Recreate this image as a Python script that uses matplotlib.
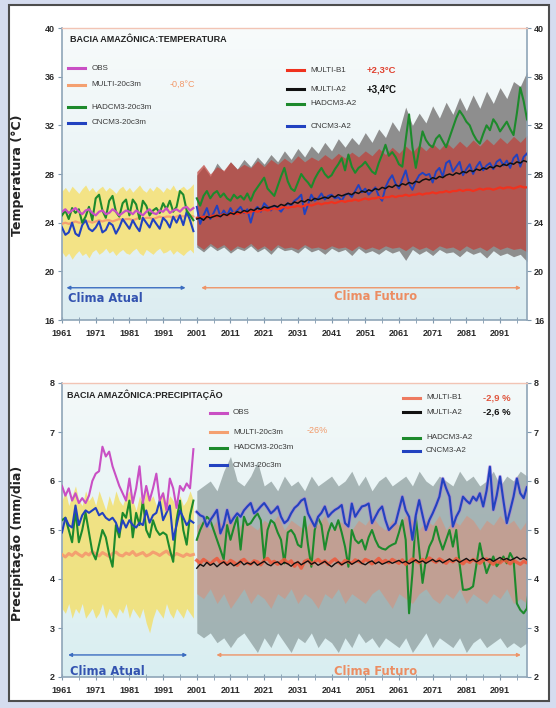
import numpy as np
import matplotlib.pyplot as plt
import matplotlib.colors as mcolors
import matplotlib.patheffects as pe
from matplotlib.lines import Line2D
from matplotlib.patches import Rectangle
from matplotlib.ticker import MultipleLocator, FixedLocator

years_hist = np.arange(1961, 2001)
years_fut = np.arange(2001, 2101)
years_band = np.arange(2001, 2101, 2)

# ---------------- temperature (°C) ----------------
obs_t = [24.9, 25.1, 24.8, 25.0, 25.2, 24.9, 24.7, 25.0, 25.1, 24.8,
         24.6, 24.9, 25.0, 24.7, 24.8, 25.1, 24.9, 24.6, 24.8, 25.0,
         24.9, 24.7, 25.0, 24.8, 24.6, 24.9, 25.1, 24.8, 24.7, 25.0,
         24.9, 25.2, 24.8, 25.0, 25.1, 24.9, 25.2, 25.3, 25.0, 25.2]
multi20_t = [23.9, 24.0, 23.9, 24.0, 24.1, 24.0, 24.0, 24.1, 24.1, 24.0,
             24.1, 24.2, 24.1, 24.2, 24.2, 24.1, 24.2, 24.3, 24.2, 24.3,
             24.3, 24.2, 24.3, 24.4, 24.3, 24.4, 24.4, 24.3, 24.4, 24.5,
             24.4, 24.5, 24.5, 24.4, 24.5, 24.6, 24.5, 24.6, 24.6, 24.5]
had20_t = [24.6, 25.0, 24.3, 25.2, 24.8, 25.1, 24.0, 24.5, 25.3, 24.2,
           26.0, 26.3, 25.0, 24.4, 25.8, 26.2, 24.9, 24.5, 25.6, 25.9,
           24.6, 25.9, 25.5, 24.3, 25.8, 25.4, 24.6, 25.0, 25.2, 24.8,
           25.6, 25.1, 25.8, 24.9, 25.3, 26.6, 26.3, 25.0, 24.6, 24.2]
cn20_t = [23.6, 23.0, 23.2, 24.0, 23.1, 22.9, 23.8, 24.2, 23.5, 23.3,
          23.6, 24.1, 23.2, 23.4, 24.0, 23.8, 23.1, 23.6, 24.3, 23.9,
          23.5, 24.2, 23.7, 23.3, 24.4, 24.0, 23.6, 24.3, 23.9, 23.5,
          24.4, 24.1, 23.6, 24.5, 24.0, 24.6, 23.8, 24.9, 24.2, 23.3]
yel_hi_t = [26.6, 26.9, 26.5, 27.0, 26.7, 26.4, 26.8, 27.1, 26.6, 26.9,
            26.5, 26.8, 27.0, 26.6, 26.9, 26.7, 26.4, 26.8, 27.0, 26.6,
            26.9, 26.5, 26.8, 27.1, 26.7, 26.5, 26.9, 26.6, 27.0, 26.8,
            26.5, 26.9, 26.7, 27.1, 26.6, 26.8, 27.0, 26.7, 26.9, 27.2]
yel_lo_t = [21.6, 21.2, 21.5, 21.0, 21.4, 21.7, 21.3, 21.5, 21.1, 21.6,
            21.8, 21.4, 21.6, 21.9, 21.5, 21.7, 21.3, 21.6, 21.8, 21.5,
            21.4, 21.7, 21.9, 21.5, 21.3, 21.8, 21.6, 21.4, 21.7, 21.9,
            21.5, 21.6, 21.8, 21.4, 21.7, 21.5, 21.3, 21.6, 21.8, 21.5]

b1_t = [24.4, 24.4, 24.5, 24.4, 24.5, 24.6, 24.5, 24.6, 24.7, 24.6,
        24.7, 24.8, 24.7, 24.8, 24.9, 24.8, 24.9, 25.0, 24.9, 25.0,
        25.1, 25.0, 25.1, 25.2, 25.1, 25.2, 25.3, 25.2, 25.3, 25.3,
        25.4, 25.3, 25.4, 25.5, 25.4, 25.5, 25.6, 25.5, 25.6, 25.6,
        25.7, 25.6, 25.7, 25.8, 25.7, 25.8, 25.8, 25.9, 25.8, 25.9,
        26.0, 25.9, 26.0, 26.0, 26.1, 26.0, 26.1, 26.1, 26.2, 26.1,
        26.2, 26.2, 26.3, 26.2, 26.3, 26.3, 26.4, 26.3, 26.4, 26.4,
        26.5, 26.4, 26.5, 26.5, 26.6, 26.5, 26.6, 26.6, 26.7, 26.6,
        26.7, 26.7, 26.6, 26.7, 26.8, 26.7, 26.8, 26.8, 26.7, 26.8,
        26.9, 26.8, 26.9, 26.9, 26.8, 26.9, 27.0, 26.9, 26.9, 27.0]
a2_t = [24.3, 24.4, 24.2, 24.5, 24.4, 24.5, 24.6, 24.5, 24.7, 24.6,
        24.8, 24.7, 24.9, 24.8, 25.0, 24.9, 25.1, 25.0, 25.2, 25.1,
        25.3, 25.2, 25.3, 25.4, 25.3, 25.5, 25.4, 25.6, 25.5, 25.7,
        25.6, 25.8, 25.7, 25.9, 25.8, 26.0, 25.9, 26.0, 26.1, 26.0,
        26.2, 26.1, 26.3, 26.2, 26.3, 26.4, 26.3, 26.5, 26.4, 26.6,
        26.5, 26.7, 26.6, 26.8, 26.7, 26.9, 26.8, 27.0, 26.9, 27.1,
        27.0, 27.2, 27.1, 27.3, 27.2, 27.4, 27.3, 27.5, 27.6, 27.5,
        27.7, 27.6, 27.8, 27.7, 27.9, 28.0, 27.9, 28.1, 28.0, 28.2,
        28.1, 28.3, 28.2, 28.4, 28.3, 28.5, 28.4, 28.6, 28.5, 28.7,
        28.6, 28.8, 28.7, 28.9, 28.8, 29.0, 28.9, 29.1, 29.0, 29.2]
hada2_t = [26.0, 25.4, 26.2, 26.6, 26.0, 26.4, 26.6, 26.1, 26.4, 26.0,
           25.8, 26.3, 26.0, 26.2, 25.9, 26.4, 25.8, 26.5, 26.9, 27.3,
           27.7, 26.8, 26.5, 26.2, 27.0, 27.8, 28.5, 27.4, 26.8, 26.6,
           27.3, 28.0, 27.6, 27.3, 26.9, 27.6, 28.1, 28.5, 28.0, 27.7,
           27.9, 28.4, 28.8, 29.3, 28.3, 29.6, 28.6, 28.1, 28.5, 28.7,
           29.0, 28.6, 28.2, 28.0, 28.9, 29.6, 30.4, 29.5, 29.8, 29.4,
           28.8, 28.6, 30.8, 32.9, 30.2, 28.5, 30.0, 31.5, 30.8, 30.4,
           30.2, 30.9, 31.2, 30.7, 30.2, 31.0, 31.8, 32.6, 33.2, 32.8,
           32.3, 32.0, 31.3, 30.8, 30.5, 31.3, 32.0, 31.6, 32.5, 32.1,
           31.5, 31.9, 32.3, 31.7, 31.2, 33.0, 35.1, 34.0, 32.5, 32.0]
cna2_t = [25.3, 23.9, 24.6, 25.2, 24.3, 24.8, 25.4, 24.5, 25.0, 24.6,
          25.2, 24.7, 25.0, 25.3, 24.8, 25.1, 24.0, 25.0, 25.3, 24.9,
          25.6, 25.3, 25.0, 25.4, 25.2, 24.9, 25.3, 25.6, 25.4, 25.8,
          26.0, 26.3, 24.7, 25.5, 26.3, 25.8, 26.0, 26.4, 25.9, 26.2,
          26.3, 26.0, 26.1, 25.8, 26.3, 26.4, 26.1, 26.6, 27.1, 26.5,
          26.8, 26.3, 26.6, 26.9, 26.2, 25.8, 26.9, 27.5, 27.9, 27.2,
          26.8, 27.6, 28.3, 27.2, 26.7, 27.4, 27.9, 28.1, 27.9, 28.0,
          27.3, 28.2, 28.5, 27.8, 28.9, 29.1, 28.2, 28.6, 29.0, 27.9,
          28.4, 28.8, 28.0, 28.6, 29.0, 28.3, 28.7, 28.9, 28.4, 29.0,
          29.2, 28.7, 29.1, 28.5, 29.3, 29.6, 28.6, 29.4, 29.7, 28.9]
# ensemble spread, every 2 years
a2_hi_t = [27.9, 28.6, 27.8, 28.9, 28.2, 29.0, 28.4, 29.2, 28.6, 29.4,
           28.8, 29.6, 29.0, 29.9, 29.2, 30.1, 29.4, 30.3, 29.7, 30.6,
           29.9, 30.9, 30.2, 31.0, 30.4, 31.4, 30.6, 31.7, 31.0, 32.3,
           31.5, 33.5, 32.0, 33.0, 32.2, 33.6, 32.6, 33.9, 32.9, 34.3,
           33.2, 34.5, 33.4, 34.8, 33.8, 35.1, 34.2, 35.6, 35.2, 36.4]
a2_lo_t = [22.0, 21.6, 22.1, 21.7, 22.0, 21.5, 21.9, 21.7, 22.1, 21.6,
           21.9, 21.4, 22.0, 21.7, 21.8, 21.5, 22.0, 21.6, 21.8, 21.4,
           21.9, 21.6, 21.8, 21.3, 21.9, 21.5, 21.7, 21.4, 21.8, 21.5,
           21.7, 20.9, 21.8, 21.4, 21.7, 21.3, 21.8, 21.5, 21.6, 21.2,
           21.7, 21.4, 21.6, 21.1, 21.7, 21.3, 21.5, 21.2, 21.4, 20.8]
b1_hi_t = [28.2, 28.8, 28.0, 28.6, 28.3, 29.0, 28.4, 28.8, 28.5, 29.1,
           28.6, 29.2, 28.8, 29.3, 28.9, 29.5, 29.0, 29.4, 29.1, 29.6,
           29.2, 29.7, 29.3, 29.8, 29.4, 29.9, 29.5, 30.1, 29.6, 30.2,
           29.7, 30.3, 29.8, 30.4, 29.9, 30.5, 30.0, 30.6, 30.1, 30.7,
           30.2, 30.8, 30.3, 30.9, 30.4, 31.0, 30.5, 31.1, 30.6, 31.2]
b1_lo_t = [22.2, 21.8, 22.3, 21.9, 22.2, 21.7, 22.1, 21.9, 22.3, 21.8,
           22.1, 21.7, 22.2, 21.9, 22.0, 21.8, 22.2, 21.9, 22.0, 21.8,
           22.1, 21.9, 22.0, 21.7, 22.1, 21.8, 22.0, 21.8, 22.1, 21.9,
           22.0, 21.7, 22.1, 21.8, 22.0, 21.7, 22.1, 21.9, 22.0, 21.7,
           22.1, 21.8, 22.0, 21.7, 22.1, 21.8, 22.0, 21.8, 21.9, 21.6]

# ---------------- precipitation (mm/dia) ----------------
obs_p = [5.90, 5.70, 5.85, 5.60, 5.75, 5.55, 5.65, 5.55, 5.70, 6.00,
         6.15, 6.20, 6.70, 6.50, 6.60, 6.30, 6.10, 5.90, 5.75, 5.60,
         6.05, 5.55, 5.85, 6.30, 5.55, 5.90, 5.60, 5.85, 6.15, 5.60,
         5.75, 5.40, 6.05, 5.85, 5.45, 5.90, 5.80, 5.95, 5.85, 6.65]
multi20_p = [4.50, 4.45, 4.52, 4.48, 4.55, 4.50, 4.46, 4.53, 4.49, 4.56,
             4.51, 4.47, 4.54, 4.50, 4.46, 4.52, 4.55, 4.49, 4.47, 4.53,
             4.50, 4.56, 4.48, 4.51, 4.54, 4.47, 4.50, 4.55, 4.52, 4.48,
             4.53, 4.57, 4.50, 4.47, 4.52, 4.49, 4.46, 4.51, 4.48, 4.50]
had20_p = [5.20, 5.25, 5.00, 4.75, 5.40, 4.75, 5.00, 5.35, 4.95, 4.55,
           4.40, 4.70, 5.00, 4.85, 4.50, 4.25, 5.10, 4.85, 5.35, 5.25,
           5.60, 4.85, 5.35, 5.10, 5.60, 5.00, 4.85, 5.20, 5.00, 4.90,
           4.95, 4.90, 4.60, 4.35, 5.20, 5.60, 5.00, 4.70, 5.30, 5.60]
cn20_p = [4.95, 5.25, 5.10, 5.05, 5.50, 5.10, 5.30, 5.40, 5.35, 5.40,
          5.45, 5.30, 5.35, 5.25, 5.20, 5.25, 5.15, 4.95, 5.20, 5.05,
          5.20, 5.10, 5.05, 5.15, 5.10, 5.40, 5.15, 5.30, 5.35, 5.60,
          5.20, 5.35, 5.50, 4.80, 5.10, 5.40, 5.25, 5.10, 5.20, 5.15]
yel_hi_p = [5.6, 5.8, 5.5, 5.7, 5.9, 5.6, 5.5, 5.8, 5.6, 5.7,
            5.5, 5.8, 5.6, 5.4, 5.7, 5.5, 5.8, 5.6, 5.5, 5.7,
            5.8, 5.6, 5.4, 5.7, 5.5, 5.8, 5.6, 5.7, 5.5, 5.6,
            5.8, 5.5, 5.7, 5.6, 5.4, 5.7, 5.5, 5.6, 5.8, 5.6]
yel_lo_p = [3.4, 3.3, 3.5, 3.2, 3.4, 3.3, 3.5, 3.2, 3.3, 3.4,
            3.2, 3.3, 3.5, 3.2, 3.4, 3.3, 3.2, 3.4, 3.3, 3.5,
            3.2, 3.4, 3.3, 3.2, 3.4, 3.1, 2.9, 3.2, 3.4, 3.3,
            3.2, 3.5, 3.3, 3.2, 3.4, 3.3, 3.2, 3.4, 3.3, 3.2]

b1_p = [4.38, 4.32, 4.40, 4.35, 4.30, 4.37, 4.42, 4.33, 4.36, 4.30,
        4.38, 4.34, 4.28, 4.36, 4.40, 4.33, 4.30, 4.37, 4.35, 4.29,
        4.38, 4.42, 4.33, 4.36, 4.30, 4.35, 4.40, 4.32, 4.37, 4.26,
        4.34, 4.22, 4.36, 4.39, 4.31, 4.35, 4.40, 4.33, 4.37, 4.30,
        4.36, 4.41, 4.34, 4.30, 4.38, 4.35, 4.32, 4.39, 4.36, 4.33,
        4.40, 4.37, 4.31, 4.36, 4.42, 4.34, 4.38, 4.33, 4.40, 4.36,
        4.32, 4.39, 4.30, 4.35, 4.41, 4.37, 4.33, 4.40, 4.36, 4.43,
        4.38, 4.34, 4.41, 4.37, 4.32, 4.39, 4.35, 4.42, 4.36, 4.31,
        4.38, 4.34, 4.40, 4.36, 4.32, 4.38, 4.41, 4.35, 4.30, 4.37,
        4.33, 4.39, 4.36, 4.31, 4.38, 4.34, 4.30, 4.36, 4.33, 4.35]
a2_p = [4.22, 4.30, 4.26, 4.34, 4.28, 4.32, 4.25, 4.31, 4.35, 4.28,
        4.33, 4.27, 4.31, 4.36, 4.29, 4.33, 4.30, 4.35, 4.28, 4.32,
        4.36, 4.30, 4.27, 4.33, 4.35, 4.29, 4.34, 4.31, 4.26, 4.32,
        4.35, 4.29, 4.33, 4.37, 4.30, 4.34, 4.28, 4.32, 4.36, 4.30,
        4.25, 4.31, 4.35, 4.29, 4.33, 4.36, 4.30, 4.34, 4.38, 4.32,
        4.29, 4.34, 4.37, 4.31, 4.35, 4.30, 4.33, 4.36, 4.32, 4.35,
        4.38, 4.33, 4.36, 4.31, 4.35, 4.39, 4.34, 4.37, 4.32, 4.36,
        4.40, 4.35, 4.38, 4.33, 4.37, 4.41, 4.36, 4.39, 4.34, 4.38,
        4.42, 4.37, 4.40, 4.35, 4.39, 4.43, 4.38, 4.41, 4.36, 4.40,
        4.44, 4.39, 4.42, 4.38, 4.41, 4.45, 4.40, 4.43, 4.39, 4.45]
hada2_p = [4.80, 5.00, 5.15, 5.27, 5.20, 5.00, 4.80, 4.60, 4.40, 5.10,
           4.80, 5.05, 5.27, 4.60, 5.27, 5.10, 5.14, 5.25, 5.34, 5.20,
           4.39, 5.00, 5.20, 5.14, 4.95, 4.80, 4.32, 4.95, 5.00, 4.90,
           4.70, 4.65, 5.27, 4.70, 4.25, 5.00, 5.25, 5.10, 4.60, 4.95,
           5.14, 5.00, 5.20, 4.95, 4.66, 4.25, 5.00, 4.80, 4.73, 4.80,
           4.60, 4.85, 5.00, 4.80, 4.66, 4.62, 4.60, 4.66, 4.70, 4.73,
           4.95, 5.20, 4.80, 3.30, 4.12, 5.27, 4.60, 3.92, 4.40, 4.66,
           4.80, 5.07, 4.80, 4.60, 4.80, 5.00, 4.66, 5.00, 4.30, 3.78,
           3.78, 3.80, 3.85, 4.30, 4.73, 4.39, 4.12, 4.30, 4.46, 4.26,
           4.35, 4.46, 4.32, 4.53, 4.40, 3.50, 3.37, 3.30, 3.40, 4.26]
cna2_p = [5.37, 5.30, 5.27, 5.07, 5.20, 5.30, 5.41, 4.93, 5.10, 5.41,
          5.14, 5.25, 5.34, 5.27, 5.40, 5.48, 5.55, 5.34, 5.40, 5.48,
          5.55, 5.45, 5.34, 5.40, 5.48, 5.27, 5.14, 5.20, 5.34, 5.45,
          5.51, 5.60, 5.64, 5.34, 5.20, 5.07, 5.27, 5.35, 5.48, 5.27,
          5.35, 5.41, 5.45, 5.51, 5.14, 5.07, 5.54, 5.27, 5.38, 5.48,
          5.50, 5.54, 5.14, 5.27, 5.40, 5.48, 5.20, 5.00, 5.07, 5.14,
          5.41, 5.68, 5.40, 5.27, 4.80, 5.30, 5.61, 5.30, 5.00, 5.20,
          5.34, 5.50, 5.68, 6.05, 5.85, 5.68, 5.07, 5.27, 5.40, 5.68,
          5.60, 5.54, 5.68, 5.60, 5.75, 5.48, 5.80, 6.29, 5.41, 5.70,
          6.09, 5.60, 5.14, 5.40, 5.68, 6.05, 5.75, 5.65, 5.88, 5.80]
a2_hi_p = [5.8, 5.9, 6.0, 5.8, 6.2, 6.5, 6.0, 5.9, 6.1, 6.4,
           5.9, 6.0, 5.8, 6.1, 5.9, 6.0, 5.8, 6.1, 5.9, 6.0,
           6.1, 5.9, 6.0, 6.2, 5.9, 6.1, 5.8, 6.0, 6.1, 5.9,
           6.0, 6.1, 5.9, 6.2, 6.0, 5.9, 6.1, 6.0, 5.9, 6.2,
           6.0, 6.1, 5.9, 6.0, 6.2, 5.9, 6.1, 6.0, 6.2, 6.1]
a2_lo_p = [2.9, 2.8, 2.9, 2.7, 2.8, 2.6, 2.8, 2.9, 2.7, 2.5,
           2.8, 2.6, 2.9, 2.7, 2.5, 2.8, 2.7, 2.9, 2.6, 2.8,
           2.7, 2.5, 2.8, 2.6, 2.9, 2.7, 2.8, 2.6, 2.8, 2.7,
           2.6, 2.8, 2.5, 2.7, 2.9, 2.6, 2.8, 2.7, 2.6, 2.8,
           2.5, 2.7, 2.8, 2.6, 2.7, 2.8, 2.6, 2.7, 2.6, 2.7]
b1_hi_p = [5.1, 5.2, 5.0, 5.2, 5.1, 5.3, 5.0, 5.2, 5.1, 5.0,
           5.2, 5.1, 5.3, 5.0, 5.2, 5.1, 5.0, 5.2, 5.1, 5.3,
           5.0, 5.2, 5.1, 5.0, 5.2, 5.1, 5.3, 5.1, 5.0, 5.2,
           5.1, 5.3, 5.2, 5.0, 5.2, 5.1, 5.3, 5.0, 5.2, 5.1,
           5.3, 5.2, 5.0, 5.2, 5.1, 5.3, 5.1, 5.2, 5.0, 5.2]
b1_lo_p = [3.7, 3.6, 3.8, 3.5, 3.7, 3.4, 3.6, 3.8, 3.5, 3.7,
           3.6, 3.4, 3.7, 3.6, 3.8, 3.5, 3.7, 3.6, 3.4, 3.7,
           3.6, 3.8, 3.5, 3.7, 3.6, 3.5, 3.7, 3.8, 3.6, 3.4,
           3.7, 3.6, 3.5, 3.7, 3.8, 3.6, 3.5, 3.7, 3.6, 3.8,
           3.5, 3.7, 3.6, 3.5, 3.7, 3.6, 3.8, 3.5, 3.6, 3.5]

C_OBS = '#c94fc4'
C_M20 = '#f4a070'
C_HAD = '#1d8a2c'
C_CN = '#2242c0'
C_B1 = '#f0321e'
C_A2 = '#111111'
FONT = 'Liberation Sans'


def background(ax, top, bottom):
    t = np.linspace(0, 1, 200)[:, None, None]
    img = (1 - t) * np.array(mcolors.to_rgb(top)) + t * np.array(mcolors.to_rgb(bottom))
    ax.imshow(img, extent=[0, 1, 0, 1], transform=ax.transAxes, aspect='auto', zorder=0)


def key(ax, x, y, color, label, lw=2.2):
    ax.add_line(Line2D([x, x + 0.037], [y, y], transform=ax.transAxes, color=color, lw=lw, zorder=6))
    ax.text(x + 0.05, y, label, transform=ax.transAxes, fontsize=5.8, va='center',
            color='#3a3a3a', family=FONT, zorder=6)


def style_axes(ax, ylim, ystep):
    ax.set_xlim(1961, 2099)
    ax.set_ylim(*ylim)
    ax.xaxis.set_major_locator(FixedLocator(np.arange(1961, 2092, 10)))
    ax.xaxis.set_minor_locator(FixedLocator(np.arange(1966, 2099, 10)))
    ax.yaxis.set_major_locator(MultipleLocator(ystep))
    ax.tick_params(axis='x', which='major', direction='inout', length=5, color='#7f98ad',
                   labelsize=6.5, pad=4, labelcolor='#2a2a2a')
    ax.tick_params(axis='x', which='minor', direction='inout', length=4, color='#7f98ad')
    ax.tick_params(axis='y', direction='out', length=3, color='#7f98ad', labelsize=6.5,
                   right=True, labelright=True, pad=2, labelcolor='#2a2a2a')
    for lab in ax.get_xticklabels() + ax.get_yticklabels() + ax.get_yticklabels(which='both'):
        lab.set_fontweight('bold')
        lab.set_family(FONT)
    for side in ('left', 'right', 'bottom'):
        ax.spines[side].set_color('#8fa5b8')
        ax.spines[side].set_linewidth(1.2)
    ax.spines['top'].set_color('#f2c4b4')
    ax.spines['top'].set_linewidth(1.0)


fig = plt.figure(figsize=(5.56, 7.08), dpi=100)
fig.patch.set_facecolor('#d5dcef')
fig.add_artist(Rectangle((9 / 556, 1 - 701 / 708), 540 / 556, 696 / 708, transform=fig.transFigure,
                         facecolor='white', edgecolor='#4d4d4d', lw=1.5, zorder=-5))

# ================= temperature =================
ax = fig.add_axes([62 / 556, 1 - 320 / 708, 465 / 556, 292 / 708])
background(ax, '#f8fbfb', '#dcedf1')
ax.fill_between(years_hist, yel_lo_t, yel_hi_t, color='#f5e27a', alpha=0.9, lw=0, zorder=1)
ax.fill_between(years_band, a2_lo_t, a2_hi_t, color='#8e8e8e', lw=0, zorder=1)
ax.fill_between(years_band, b1_lo_t, b1_hi_t, color='#c0413a', alpha=0.72, lw=0, zorder=2)
ax.plot(years_hist, multi20_t, color=C_M20, lw=1.6, zorder=3)
ax.plot(years_hist, cn20_t, color=C_CN, lw=1.5, zorder=4)
ax.plot(years_hist, had20_t, color=C_HAD, lw=1.5, zorder=4)
ax.plot(years_hist, obs_t, color=C_OBS, lw=1.6, zorder=5)
ax.plot(years_fut, hada2_t, color=C_HAD, lw=1.5, zorder=4)
ax.plot(years_fut, cna2_t, color=C_CN, lw=1.4, zorder=4)
ax.plot(years_fut, b1_t, color=C_B1, lw=1.6, zorder=5)
ax.plot(years_fut, a2_t, color=C_A2, lw=1.1, zorder=5)
style_axes(ax, (16, 40), 4)

ax.text(0.017, 0.962, 'BACIA AMAZÔNICA:TEMPERATURA', transform=ax.transAxes, fontsize=6.5,
        fontweight='bold', family=FONT, color='#222222', va='center')
key(ax, 0.013, 0.863, C_OBS, 'OBS')
key(ax, 0.013, 0.806, C_M20, 'MULTI-20c3m')
key(ax, 0.013, 0.729, C_HAD, 'HADCM3-20c3m')
key(ax, 0.013, 0.676, C_CN, 'CNCM3-20c3m')
ax.text(0.232, 0.806, '-0,8°C', transform=ax.transAxes, fontsize=6.5, color='#f29a6a',
        family=FONT, va='center')
key(ax, 0.484, 0.856, C_B1, 'MULTI-B1')
key(ax, 0.484, 0.791, C_A2, 'MULTI-A2')
key(ax, 0.484, 0.740, C_HAD, 'HADCM3-A2')
key(ax, 0.484, 0.664, C_CN, 'CNCM3-A2')
ax.text(0.656, 0.856, '+2,3°C', transform=ax.transAxes, fontsize=6.8, color='#e0402e',
        fontweight='bold', family=FONT, va='center')
ax.text(0.656, 0.791, '+3,4°C', transform=ax.transAxes, fontsize=7, color='#111111',
        fontweight='bold', family=FONT, va='center')

ax.annotate('', xy=(1961.5, 18.65), xytext=(1998.5, 18.65),
            arrowprops=dict(arrowstyle='<|-|>', color='#3b6cc0', lw=1.0, mutation_scale=5), zorder=6)
ax.annotate('', xy=(2001.5, 18.65), xytext=(2098, 18.65),
            arrowprops=dict(arrowstyle='<|-|>', color='#ee9468', lw=1.0, mutation_scale=5), zorder=6)
ax.text(1962.8, 17.8, 'Clima Atual', fontsize=8.3, fontweight='bold', color='#3353b0', va='center')
ax.text(2054, 17.9, 'Clima Futuro', fontsize=8.3, fontweight='bold', color='#ec8d62',
        va='center', ha='center')

fig.text(0.032, 0.753, 'Temperatura (°C)', rotation=90, fontsize=9, fontweight='bold',
         color='#222222', ha='center', va='center')

# ================= precipitation =================
bx = fig.add_axes([62 / 556, 1 - 677 / 708, 465 / 556, 294 / 708])
background(bx, '#f4f9f9', '#d9eef1')
bx.fill_between(years_hist, yel_lo_p, yel_hi_p, color='#f2e070', alpha=0.85, lw=0, zorder=1)
bx.fill_between(years_band, a2_lo_p, a2_hi_p, color='#8a9a9a', alpha=0.7, lw=0, zorder=1)
bx.fill_between(years_band, b1_lo_p, b1_hi_p, color='#d98f78', alpha=0.55, lw=0, zorder=2)
bx.plot(years_hist, multi20_p, color=C_M20, lw=2.2, zorder=3)
bx.plot(years_hist, had20_p, color=C_HAD, lw=1.5, zorder=4)
bx.plot(years_hist, cn20_p, color=C_CN, lw=1.5, zorder=4)
bx.plot(years_hist, obs_p, color=C_OBS, lw=1.5, zorder=5)
bx.plot(years_fut, hada2_p, color=C_HAD, lw=1.5, zorder=4)
bx.plot(years_fut, cna2_p, color=C_CN, lw=1.5, zorder=4,
        path_effects=[pe.Stroke(linewidth=2.6, foreground='#a878d8', alpha=0.6), pe.Normal()])
bx.plot(years_fut, b1_p, color='#f0583a', lw=2.4, alpha=0.85, zorder=5)
bx.plot(years_fut, a2_p, color=C_A2, lw=1.0, zorder=5)
style_axes(bx, (2, 8), 1)

bx.text(0.011, 0.959, 'BACIA AMAZÔNICA:PRECIPITAÇÃO', transform=bx.transAxes, fontsize=6.5,
        fontweight='bold', family=FONT, color='#222222', va='center')
key(bx, 0.318, 0.898, C_OBS, 'OBS')
key(bx, 0.318, 0.833, C_M20, 'MULTI-20c3m')
key(bx, 0.318, 0.779, C_HAD, 'HADCM3-20c3m')
key(bx, 0.318, 0.721, C_CN, 'CNM3-20c3m')
bx.text(0.527, 0.840, '-26%', transform=bx.transAxes, fontsize=6.5, color='#f29a6a',
        family=FONT, va='center')
key(bx, 0.733, 0.949, '#ee7a60', 'MULTI-B1')
key(bx, 0.733, 0.901, C_A2, 'MULTI-A2')
key(bx, 0.733, 0.813, C_HAD, 'HADCM3-A2')
key(bx, 0.733, 0.769, C_CN, 'CNCM3-A2')
bx.text(0.905, 0.949, '-2,9 %', transform=bx.transAxes, fontsize=6.8, color='#e0563e',
        fontweight='bold', family=FONT, va='center')
bx.text(0.905, 0.901, '-2,6 %', transform=bx.transAxes, fontsize=6.8, color='#111111',
        fontweight='bold', family=FONT, va='center')

bx.annotate('', xy=(1962, 2.45), xytext=(1999, 2.45),
            arrowprops=dict(arrowstyle='<|-|>', color='#3b6cc0', lw=1.0, mutation_scale=5), zorder=6)
bx.annotate('', xy=(2006, 2.45), xytext=(2098, 2.45),
            arrowprops=dict(arrowstyle='<|-|>', color='#ee9468', lw=1.0, mutation_scale=5), zorder=6)
bx.text(1963.5, 2.12, 'Clima Atual', fontsize=8.3, fontweight='bold', color='#3353b0', va='center')
bx.text(2054, 2.12, 'Clima Futuro', fontsize=8.3, fontweight='bold', color='#ec8d62',
        va='center', ha='center')

fig.text(0.032, 0.232, 'Precipitação (mm/dia)', rotation=90, fontsize=9, fontweight='bold',
         color='#222222', ha='center', va='center')

fig.savefig('out.png', dpi=100, facecolor=fig.get_facecolor())
